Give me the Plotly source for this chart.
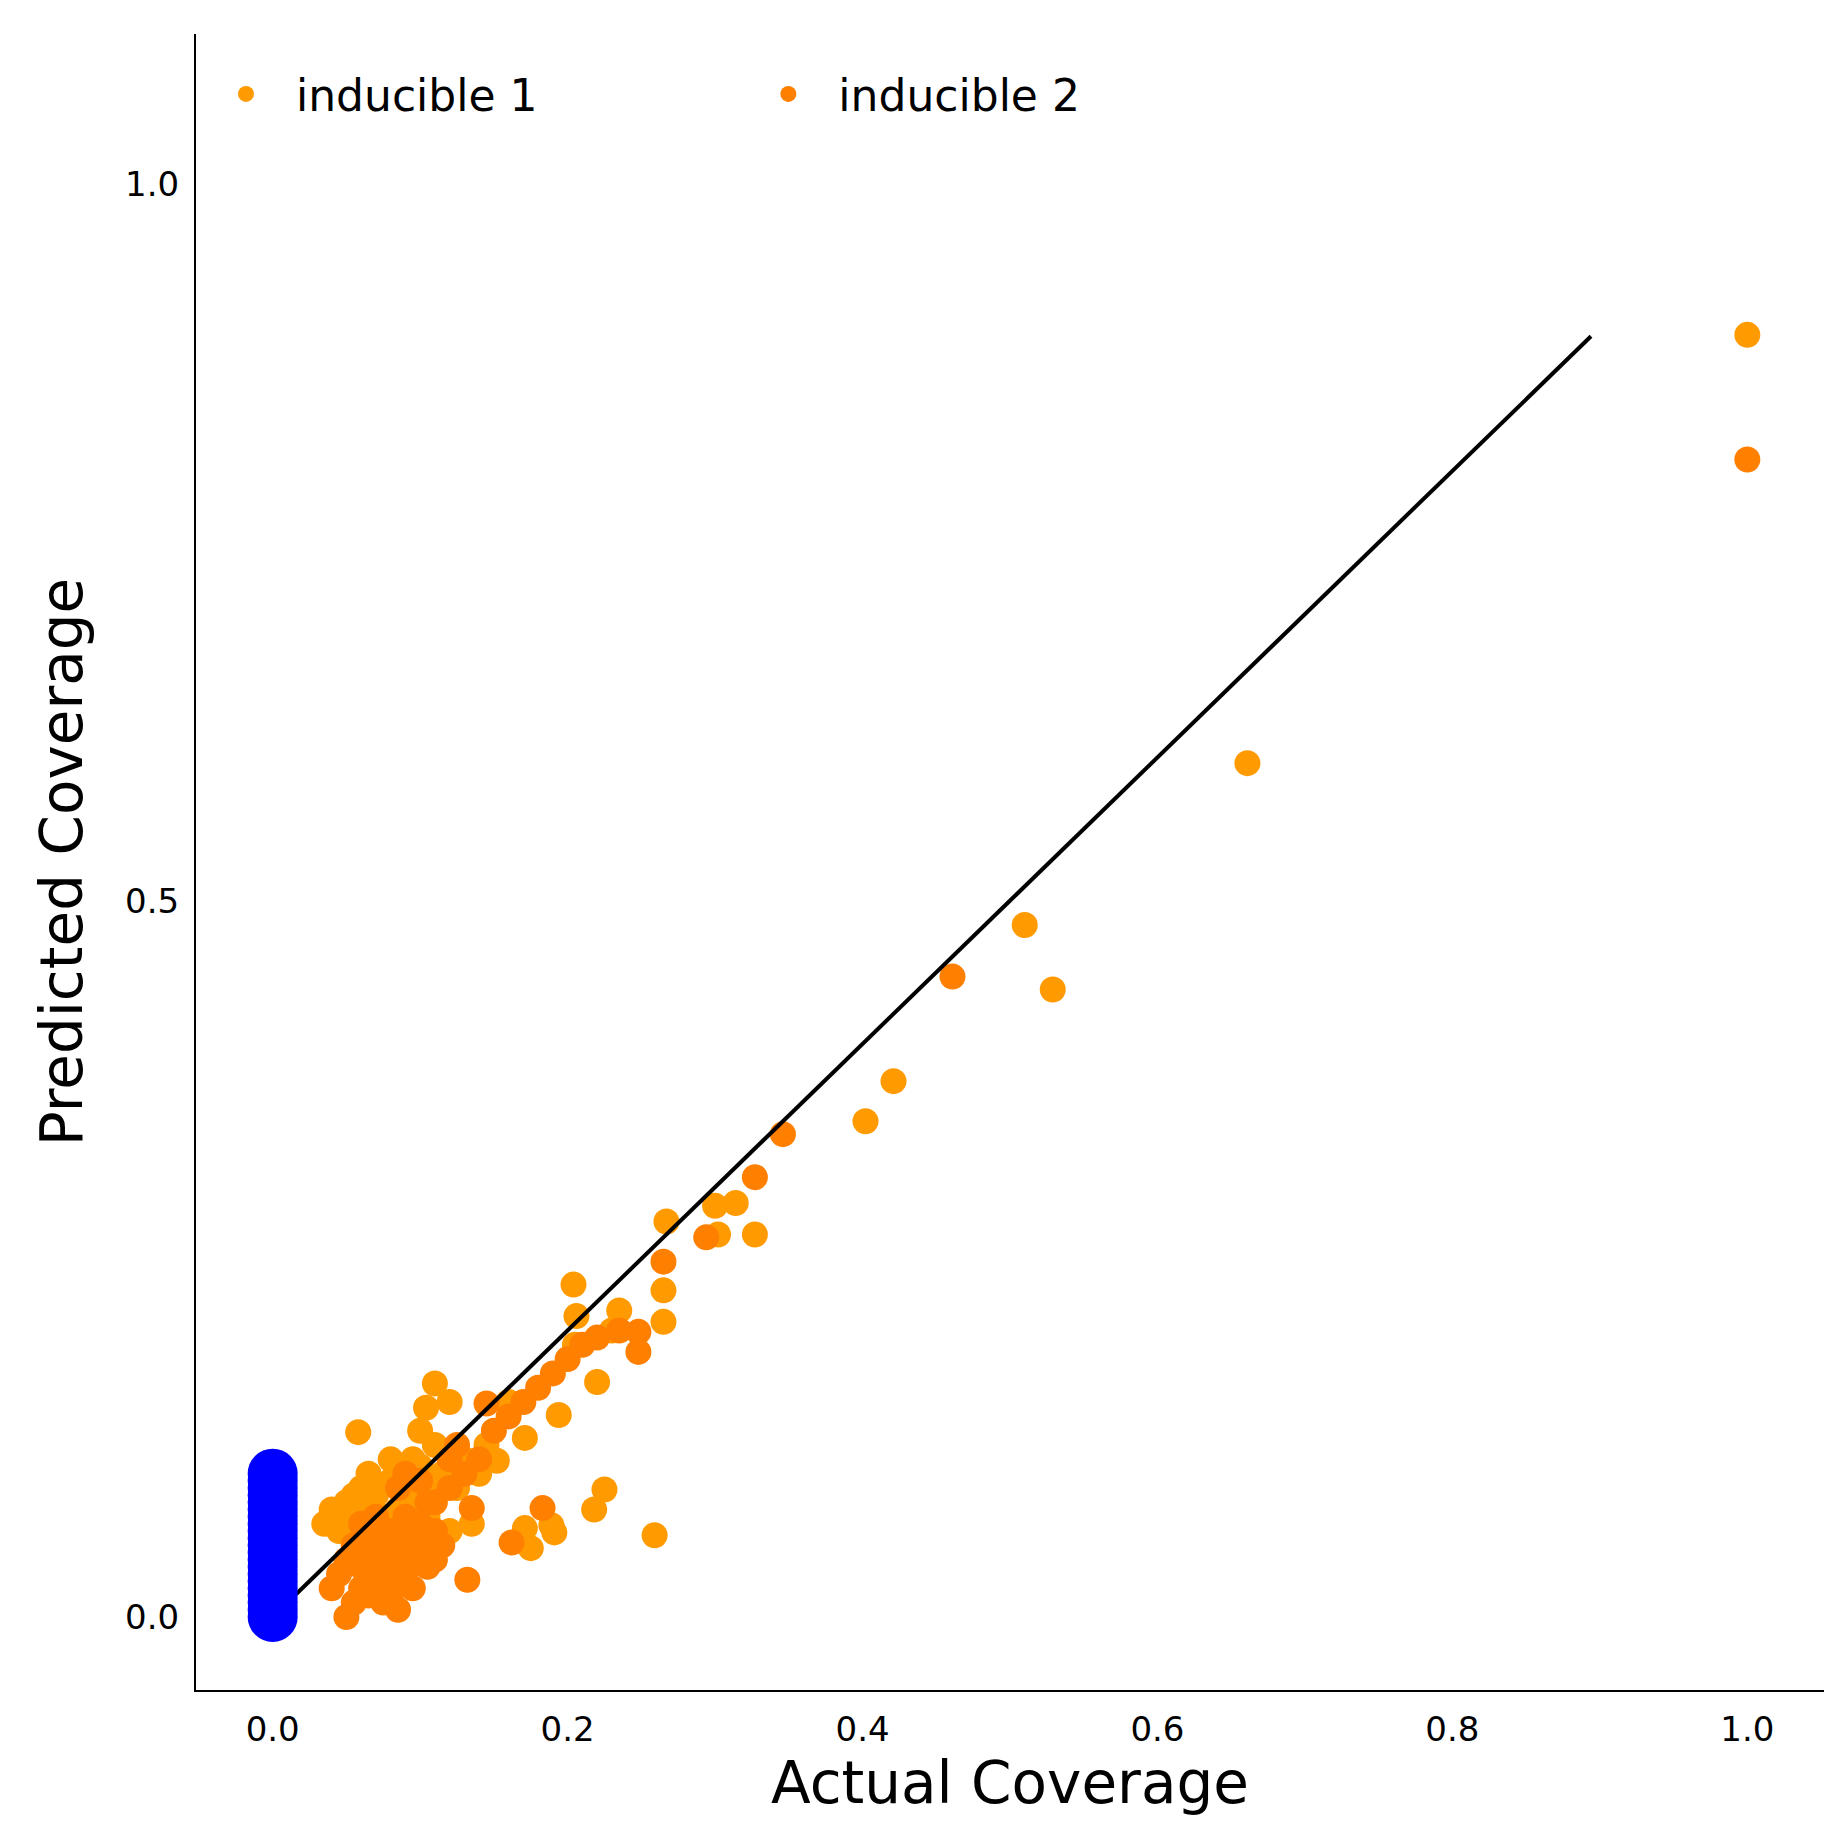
import plotly.graph_objects as go

# inducible 1 (light orange)
ind1_x = [1.0, 0.661, 0.51, 0.529, 0.421, 0.402, 0.267, 0.30, 0.314, 0.327, 0.302, 0.204, 0.265, 0.265,
          0.235, 0.206, 0.22, 0.11, 0.12, 0.104, 0.058, 0.259, 0.225, 0.218, 0.189, 0.171, 0.191, 0.175,
          0.152, 0.194, 0.171, 0.16, 0.145, 0.13, 0.115, 0.1, 0.09, 0.08, 0.07, 0.06, 0.05, 0.045, 0.04,
          0.035, 0.05, 0.06, 0.07, 0.085, 0.095, 0.105, 0.12, 0.135, 0.065, 0.075, 0.055, 0.045, 0.11,
          0.125, 0.14, 0.09, 0.1, 0.08, 0.205, 0.23, 0.055, 0.065, 0.075, 0.085, 0.095, 0.105]
ind1_y = [0.895, 0.596, 0.483, 0.438, 0.374, 0.346, 0.276, 0.287, 0.289, 0.267, 0.267, 0.232, 0.228, 0.206,
          0.214, 0.210, 0.164, 0.163, 0.150, 0.146, 0.129, 0.057, 0.089, 0.075, 0.064, 0.062, 0.059, 0.048,
          0.109, 0.141, 0.125, 0.15, 0.12, 0.11, 0.1, 0.105, 0.09, 0.095, 0.085, 0.09, 0.08, 0.07, 0.075,
          0.065, 0.06, 0.07, 0.06, 0.075, 0.08, 0.07, 0.06, 0.065, 0.1, 0.055, 0.05, 0.06, 0.12, 0.09,
          0.1, 0.06, 0.13, 0.11, 0.19, 0.2, 0.085, 0.08, 0.07, 0.1, 0.11, 0.09]

# inducible 2 (dark orange)
ind2_x = [1.0, 0.461, 0.346, 0.327, 0.294, 0.265, 0.248, 0.248, 0.145, 0.132, 0.183, 0.162, 0.135,
          0.05, 0.055, 0.06, 0.065, 0.07, 0.075, 0.08, 0.085, 0.09, 0.095, 0.1, 0.105, 0.11, 0.115,
          0.04, 0.045, 0.05, 0.06, 0.07, 0.08, 0.09, 0.1, 0.11, 0.12, 0.13, 0.14, 0.085, 0.075, 0.065,
          0.055, 0.095, 0.105, 0.085, 0.07, 0.06, 0.09, 0.1, 0.12, 0.15, 0.16, 0.17, 0.18, 0.19, 0.2,
          0.21, 0.22, 0.235, 0.125, 0.11, 0.065, 0.075, 0.085, 0.095, 0.06, 0.07, 0.08]
ind2_y = [0.808, 0.447, 0.337, 0.307, 0.265, 0.248, 0.199, 0.185, 0.149, 0.026, 0.076, 0.052, 0.076,
          0.0, 0.01, 0.02, 0.03, 0.025, 0.035, 0.015, 0.04, 0.03, 0.045, 0.05, 0.035, 0.06, 0.05,
          0.02, 0.03, 0.04, 0.045, 0.055, 0.06, 0.07, 0.065, 0.08, 0.09, 0.1, 0.11, 0.005, 0.01,
          0.04, 0.05, 0.02, 0.08, 0.09, 0.07, 0.065, 0.1, 0.095, 0.11, 0.13, 0.14, 0.15, 0.16, 0.17,
          0.18, 0.19, 0.195, 0.2, 0.12, 0.04, 0.015, 0.045, 0.055, 0.06, 0.035, 0.04, 0.025]

# control (blue) at zero actual coverage
ctrl_y = [0.0, 0.005, 0.01, 0.015, 0.02, 0.025, 0.03, 0.035, 0.04, 0.045, 0.05, 0.055, 0.06,
          0.065, 0.07, 0.075, 0.08, 0.085, 0.09, 0.095, 0.1]
ctrl_x = [0.0] * len(ctrl_y)

diag = [0.016, 0.894]

fig = go.Figure()
fig.add_trace(go.Scatter(x=ind1_x, y=ind1_y, mode='markers', name='inducible 1' + '\u00a0' * 14,
                         marker=dict(color='#ff9b00', size=26)))
fig.add_trace(go.Scatter(x=ind2_x, y=ind2_y, mode='markers', name='inducible 2',
                         marker=dict(color='#ff7f00', size=26)))
fig.add_trace(go.Scatter(x=diag, y=diag, mode='lines', showlegend=False,
                         line=dict(color='black', width=4)))
fig.add_trace(go.Scatter(x=ctrl_x, y=ctrl_y, mode='markers', showlegend=False,
                         marker=dict(color='#0000ff', size=50)))

fig.update_layout(
    width=1834, height=1834, plot_bgcolor='white', paper_bgcolor='white',
    margin=dict(l=188, r=18, t=26, b=152),
    font=dict(family='DejaVu Sans', color='black'),
    legend=dict(orientation='h', x=0.0, y=0.985, xanchor='left', yanchor='top',
                font=dict(size=44), itemwidth=90, bgcolor='rgba(0,0,0,0)'),
    xaxis=dict(range=[-0.052, 1.052], tickvals=[0, 0.2, 0.4, 0.6, 0.8, 1.0], tickformat='.1f',
               showgrid=False, zeroline=False, showline=True, linecolor='black', linewidth=2,
               ticks='outside', ticklen=8, tickcolor='white',
               tickfont=dict(size=34), title=dict(text='Actual Coverage', font=dict(size=58), standoff=14)),
    yaxis=dict(range=[-0.051, 1.105], tickvals=[0, 0.5, 1.0], tickformat='.1f',
               showgrid=False, zeroline=False, showline=True, linecolor='black', linewidth=2,
               ticks='outside', ticklen=8, tickcolor='white',
               tickfont=dict(size=34), title=dict(text='Predicted Coverage', font=dict(size=58), standoff=24)),
)
fig.write_html("out.html")
